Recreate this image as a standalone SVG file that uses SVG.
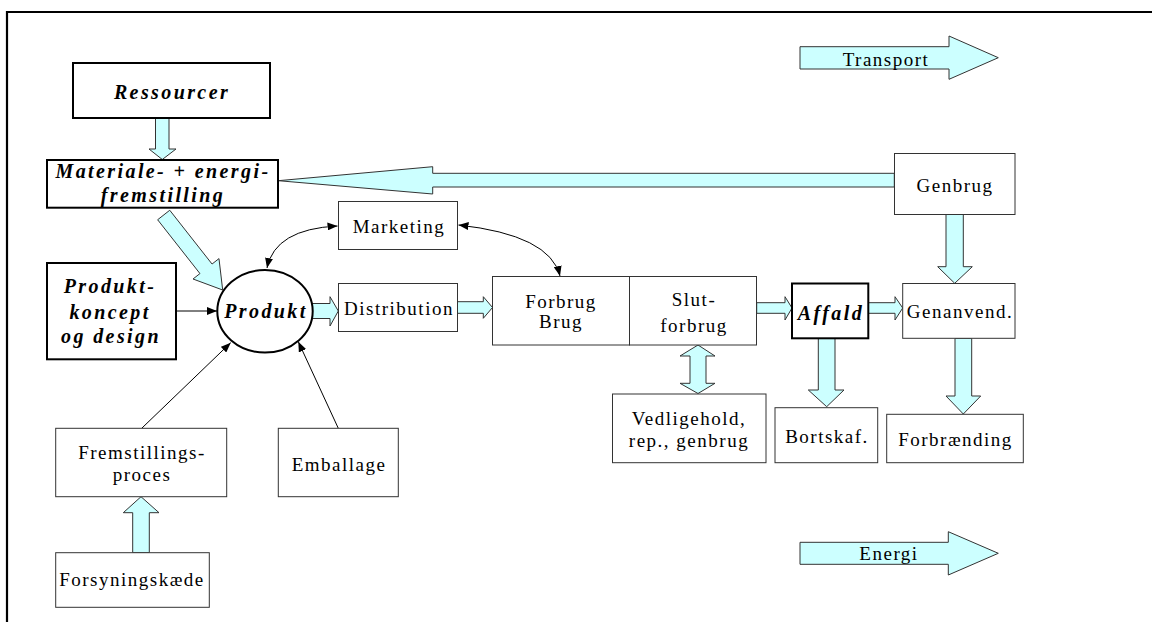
<svg xmlns="http://www.w3.org/2000/svg" width="1152" height="631" viewBox="0 0 1152 631">
<style>
.box{fill:#fff;stroke:#333;stroke-width:1}
.bbox{fill:#fff;stroke:#000;stroke-width:2}
.blk{fill:#ccffff;stroke:#333;stroke-width:1;stroke-linejoin:miter}
.ln{fill:none;stroke:#000;stroke-width:1}
.t{font-family:"Liberation Serif","Times New Roman",serif;font-size:19px;letter-spacing:1.5px;fill:#000;text-anchor:middle}
.bt{font-family:"Liberation Serif","Times New Roman",serif;font-size:20px;font-weight:bold;font-style:italic;letter-spacing:2.4px;fill:#000;text-anchor:middle}
</style>
<defs>
<marker id="ah" viewBox="0 0 10 8" refX="10" refY="4" markerWidth="10" markerHeight="8" markerUnits="userSpaceOnUse" orient="auto-start-reverse">
<path d="M0,0 L10,4 L0,8 z" fill="#000"/>
</marker>
</defs>
<rect width="1152" height="631" fill="#fff"/>
<path d="M7,622 V12 H1152" fill="none" stroke="#000" stroke-width="2.2"/>

<g id="connectors">
<!-- Ressourcer -> Materiale -->
<polygon class="blk" points="155.5,118 169,118 169,149 176,149 162.3,159.5 149,149 155.5,149"/>
<!-- Materiale -> Produkt diagonal -->
<polygon class="blk" points="169.75,210.24 212.05,264.04 218.97,258.6 222.7,290 193.03,279 199.95,273.56 157.65,219.76"/>
<!-- Genbrug -> Materiale -->
<polygon class="blk" points="894.3,173.3 432.7,173.3 432.7,166.7 278.3,180.7 432.7,194 432.7,187 894.3,187"/>
<!-- Produkt -> Distribution -->
<polygon class="blk" points="312.5,303.5 330,303.5 330,296.7 338.3,311 330,326 330,318.5 312.5,318.5"/>
<!-- Distribution -> Forbrug -->
<polygon class="blk" points="457.3,301.7 483.3,301.7 483.3,296.7 492.5,307.5 483.3,318.3 483.3,313.3 457.3,313.3"/>
<!-- Slut <-> Vedligehold -->
<polygon class="blk" points="698,345 715,356 706,356 706,383.3 715,383.3 698,393.5 680,383.3 690,383.3 690,356 680,356"/>
<!-- Slut -> Affald -->
<polygon class="blk" points="756.7,302.7 785,302.7 785,296.7 792,308 785,320 785,313.3 756.7,313.3"/>
<!-- Affald -> Genanvend -->
<polygon class="blk" points="868.3,302.7 895,302.7 895,296.7 902.7,308 895,320 895,313.3 868.3,313.3"/>
<!-- Genbrug -> Genanvend -->
<polygon class="blk" points="946,214.3 963.3,214.3 963.3,266.7 972.3,266.7 954.7,283.3 937.7,266.7 946,266.7"/>
<!-- Affald -> Bortskaf -->
<polygon class="blk" points="818.3,338.3 835,338.3 835,390 844,390 826.7,406.7 808.3,390 818.3,390"/>
<!-- Genanvend -> Forbraending -->
<polygon class="blk" points="955,338.3 971.7,338.3 971.7,396 980.7,396 963.3,414 946,396 955,396"/>
<!-- Forsyningskaede -> Fremstillingsproces -->
<polygon class="blk" points="132.7,552.7 149.3,552.7 149.3,512.7 159,512.7 141,496.7 123.3,512.7 132.7,512.7"/>
<!-- thin arrows -->
<line class="ln" x1="175.7" y1="311" x2="217" y2="311" marker-end="url(#ah)"/>
<line class="ln" x1="141.7" y1="428.3" x2="230.7" y2="342.7" marker-end="url(#ah)"/>
<line class="ln" x1="338.3" y1="428.3" x2="298.3" y2="341.7" marker-end="url(#ah)"/>
<path class="ln" d="M267,268 Q275,229 337.5,226" marker-start="url(#ah)" marker-end="url(#ah)"/>
<path class="ln" d="M458.5,225 Q550,235 560,276" marker-start="url(#ah)" marker-end="url(#ah)"/>
</g>

<g id="transport">
<polygon class="blk" points="800,46.7 949,46.7 949,36 998.3,57.7 949,79.3 949,69 800,69"/>
<text class="t" x="886" y="65.7">Transport</text>
</g>
<g id="energi">
<polygon class="blk" points="800,542.3 948.3,542.3 948.3,531.7 998.3,553.3 948.3,575 948.3,564.3 800,564.3"/>
<text class="t" x="889" y="560">Energi</text>
</g>

<g id="ressourcer">
<rect class="bbox" x="73" y="63" width="197" height="55"/>
<text class="bt" x="172" y="99">Ressourcer</text>
</g>
<g id="materiale">
<rect class="bbox" x="47" y="160" width="231" height="47.7"/>
<text class="bt" x="163" y="178">Materiale- + energi-</text>
<text class="bt" x="163" y="201.7">fremstilling</text>
</g>
<g id="produktkoncept">
<rect class="bbox" x="47" y="263" width="129" height="96.3"/>
<text class="bt" x="110" y="293.3">Produkt-</text>
<text class="bt" x="110" y="319.3">koncept</text>
<text class="bt" x="111" y="343.3">og design</text>
</g>
<g id="produkt">
<ellipse cx="265" cy="311.3" rx="47.7" ry="41.3" fill="#fff" stroke="#000" stroke-width="2"/>
<text class="bt" x="266" y="318">Produkt</text>
</g>
<g id="marketing">
<rect class="box" x="338.5" y="201.5" width="119" height="48"/>
<text class="t" x="399" y="233">Marketing</text>
</g>
<g id="distribution">
<rect class="box" x="338.5" y="283.5" width="119" height="48"/>
<text class="t" x="399" y="315">Distribution</text>
</g>
<g id="forbrug">
<rect class="box" x="492.5" y="276.5" width="137" height="68.5"/>
<text class="t" x="561" y="308.3">Forbrug</text>
<text class="t" x="561" y="328.3">Brug</text>
</g>
<g id="slutforbrug">
<rect class="box" x="629.5" y="276.5" width="127" height="68.5"/>
<text class="t" x="694" y="306">Slut-</text>
<text class="t" x="694" y="331.7">forbrug</text>
</g>
<g id="vedligehold">
<rect class="box" x="612.5" y="394" width="153.5" height="68.7"/>
<text class="t" x="689" y="425">Vedligehold,</text>
<text class="t" x="689" y="446.7">rep., genbrug</text>
</g>
<g id="affald">
<rect class="bbox" x="792" y="283.5" width="76.3" height="54.8"/>
<text class="bt" x="831" y="320">Affald</text>
</g>
<g id="genanvend">
<rect class="box" x="902.7" y="283.5" width="112.3" height="54.8"/>
<text class="t" x="960" y="318.3">Genanvend.</text>
</g>
<g id="genbrug">
<rect class="box" x="894.5" y="153.5" width="120.5" height="61"/>
<text class="t" x="955" y="191.7">Genbrug</text>
</g>
<g id="bortskaf">
<rect class="box" x="775" y="407.7" width="102.7" height="55"/>
<text class="t" x="827" y="442.7">Bortskaf.</text>
</g>
<g id="forbraending">
<rect class="box" x="886.7" y="414.3" width="136.6" height="48.4"/>
<text class="t" x="955.5" y="446">Forbrænding</text>
</g>
<g id="fremstillingsproces">
<rect class="box" x="55.7" y="428.3" width="171" height="68.4"/>
<text class="t" x="142" y="459.3">Fremstillings-</text>
<text class="t" x="142" y="480.7">proces</text>
</g>
<g id="emballage">
<rect class="box" x="278.3" y="428.3" width="120" height="68.4"/>
<text class="t" x="339" y="470.7">Emballage</text>
</g>
<g id="forsyningskaede">
<rect class="box" x="55.7" y="552.7" width="153.6" height="54.6"/>
<text class="t" x="132" y="586">Forsyningskæde</text>
</g>
</svg>
